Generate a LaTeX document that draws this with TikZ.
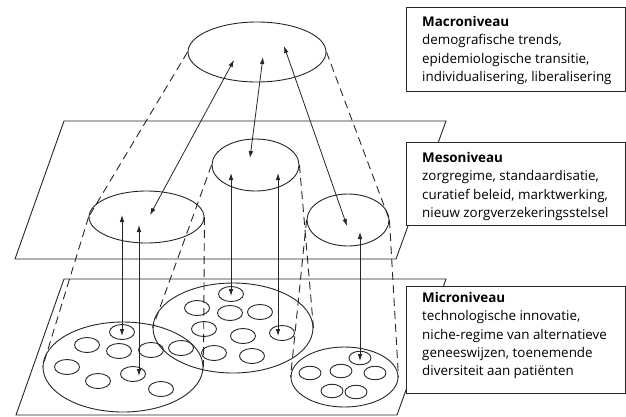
\documentclass[tikz,border=0pt]{standalone}
\usepackage{fontspec}
\setmainfont{Open Sans}
\usetikzlibrary{shapes.geometric,arrows.meta}
\begin{document}
\begin{tikzpicture}[x=1pt,y=-1pt,
  ink/.style={draw=black!85,line width=0.9pt},
  disc/.style={ink,ellipse,inner sep=0pt},
  cell/.style={disc,minimum width=25pt,minimum height=15pt},
  smallcell/.style={disc,minimum width=22pt,minimum height=13.5pt},
  rim/.style={draw=black!85,line width=0.9pt,dash pattern=on 8pt off 5pt},
  link/.style={draw=black!85,line width=0.8pt,{Latex[length=7pt,width=4.6pt]}-{Latex[length=7pt,width=4.6pt]}},
  frame/.style={draw=black!85,line width=0.9pt,fill=white,rectangle,inner sep=0pt,minimum width=219pt},
  label/.style={anchor=north west,inner sep=0pt,align=left,font=\fontsize{13.4}{18.4}\selectfont},
]
\useasboundingbox (0,0) rectangle (626,416);

% the two planes
\draw[ink] (64,121) -- (446,121) -- (396,259) -- (15,259) -- cycle;
\draw[ink] (64,279) -- (446,279) -- (397,415) -- (16,415) -- cycle;

% level ellipses
\node[disc,minimum width=138pt,minimum height=60pt] (macro) at (257,52) {};
\node[disc,minimum width=87pt,minimum height=52pt] (mesoC) at (255.5,165) {};
\node[disc,minimum width=115pt,minimum height=52pt] (mesoL) at (146.5,217) {};
\node[disc,minimum width=82pt,minimum height=52pt] (mesoR) at (348,220) {};
\node[disc,minimum width=160pt,minimum height=90pt] (microL) at (123,367) {};
\node[disc,minimum width=160pt,minimum height=90pt] (microM) at (233,328) {};
\node[disc,minimum width=107pt,minimum height=60pt] (microR) at (344.5,377) {};

% small units inside the micro level
\foreach \p [count=\i] in {(122,332),(87,345),(119,351),(151,350),(181,348),(67,367),(98,381),(133,374),(161,389)}
  \node[cell] (l\i) at \p {};
\foreach \p [count=\i] in {(231,294),(197,308),(230,313),(260,312),(204,329),(243,336),(282,333),(214,353),(252,356)}
  \node[cell] (m\i) at \p {};
\foreach \p [count=\i] in {(360,358),(310,373),(341,371),(375,373),(332,391),(356,392)}
  \node[smallcell] (r\i) at \p {};

% dashed silhouettes between levels
\draw[rim] (macro.west) -- (mesoL.west);
\draw[rim] (mesoL.west) -- (microL.west);
\draw[rim] (mesoL.east) -- (microL.east);
\draw[rim] (mesoC.west) -- (microM.west);
\draw[rim] (mesoC.east) -- (microM.east);
\draw[rim] (macro.east) -- (mesoR.east);
\draw[rim] (mesoR.west) -- (microR.west);
\draw[rim] (mesoR.east) -- (microR.east);

% arrow end points
\coordinate (ma1) at (234,60);  \coordinate (ml1) at (150,215);
\coordinate (ma2) at (263,57);  \coordinate (mc1) at (250,158);
\coordinate (ma3) at (284,46);  \coordinate (mr1) at (347,226);
\coordinate (ml2) at (122,215); \coordinate (lt1) at (122,336);
\coordinate (ml3) at (139,225); \coordinate (lt2) at (139,376);
\coordinate (mc2) at (231,173); \coordinate (mt1) at (231,296);
\coordinate (mc3) at (278,173); \coordinate (mt2) at (278,336);
\coordinate (mr2) at (360,232); \coordinate (rt1) at (360,361);

\draw[link] (ma1) -- (ml1);
\draw[link] (ma2) -- (mc1);
\draw[link] (ma3) -- (mr1);
\draw[link] (ml2) -- (lt1);
\draw[link] (ml3) -- (lt2);
\draw[link] (mc2) -- (mt1);
\draw[link] (mc3) -- (mt2);
\draw[link] (mr2) -- (rt1);

% description boxes
\node[frame,minimum height=84pt] (boxA) at (515.5,49) {};
\node[frame,minimum height=83pt] (boxB) at (515.5,183.5) {};
\node[frame,minimum height=107pt] (boxC) at (515.5,339.5) {};

\node[label] (txtA) at (422,16) {\textbf{Macroniveau}\\demografische trends,\\epidemiologische transitie,\\individualisering, liberalisering};
\node[label] (txtB) at (422,152) {\textbf{Mesoniveau}\\zorgregime, standaardisatie,\\curatief beleid, marktwerking,\\nieuw zorgverzekeringsstelsel};
\node[label] (txtC) at (422,292) {\textbf{Microniveau}\\technologische innovatie,\\niche-regime van alternatieve\\geneeswijzen, toenemende\\diversiteit aan patiënten};
\end{tikzpicture}
\end{document}
